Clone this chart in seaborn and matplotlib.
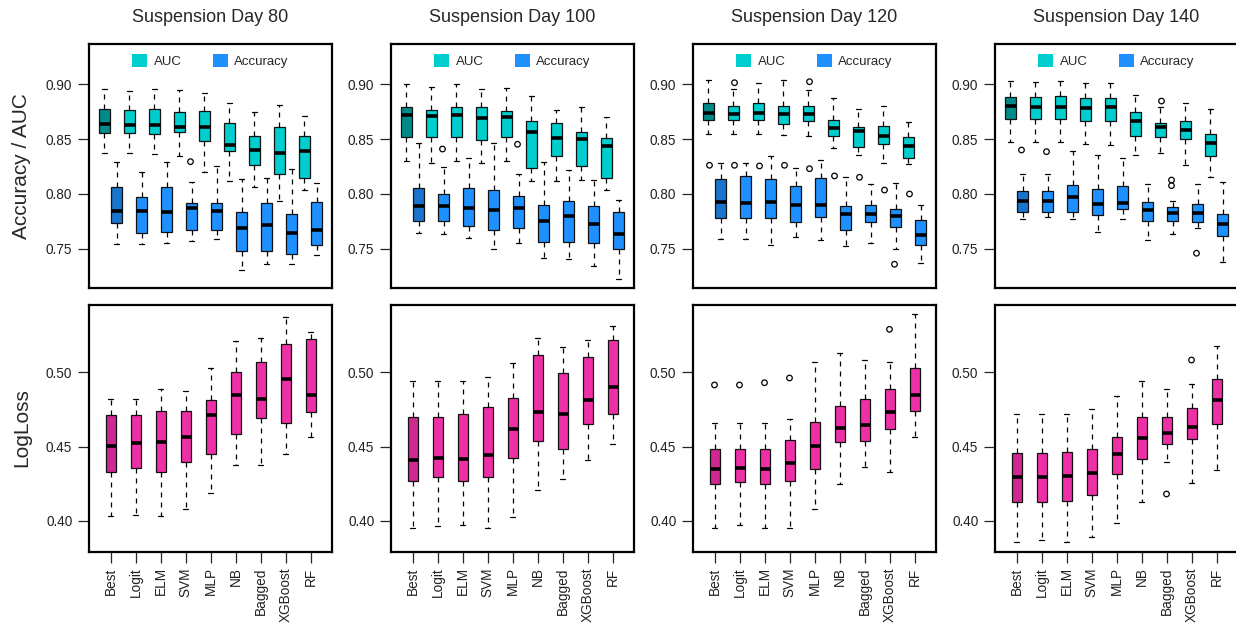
import pandas as pd
import seaborn as sns
import matplotlib.pyplot as plt
from matplotlib.patches import Patch

# models on the x axis
models = ['Best', 'Logit', 'ELM', 'SVM', 'MLP', 'NB', 'Bagged', 'XGBoost', 'RF']
titles = ['Suspension Day 80', 'Suspension Day 100', 'Suspension Day 120', 'Suspension Day 140']

# box summaries per model: [low whisker, Q1, median, Q3, high whisker]
auc_80 = [[0.8373, 0.8555, 0.8636, 0.8776, 0.8955], [0.8373, 0.8555, 0.8627, 0.8767, 0.8936],
          [0.8361, 0.8545, 0.8624, 0.8776, 0.8955], [0.8345, 0.8561, 0.8606, 0.8745, 0.8942],
          [0.8203, 0.8482, 0.8612, 0.8752, 0.8921], [0.8115, 0.8388, 0.8442, 0.8645, 0.8830],
          [0.8064, 0.8267, 0.8403, 0.8527, 0.8742], [0.7936, 0.8179, 0.8376, 0.8612, 0.8806],
          [0.8036, 0.8142, 0.8391, 0.8530, 0.8712]]
acc_80 = [[0.7545, 0.7733, 0.7842, 0.8061, 0.8288], [0.7545, 0.7648, 0.7842, 0.7976, 0.8203],
          [0.7552, 0.7655, 0.7836, 0.8061, 0.8291], [0.7573, 0.7673, 0.7870, 0.7915, 0.8112],
          [0.7594, 0.7673, 0.7848, 0.7921, 0.8255], [0.7309, 0.7482, 0.7694, 0.7833, 0.8133],
          [0.7361, 0.7482, 0.7718, 0.7915, 0.8142], [0.7361, 0.7458, 0.7645, 0.7818, 0.8224],
          [0.7445, 0.7533, 0.7670, 0.7924, 0.8097]]
auc_100 = [[0.8303, 0.8518, 0.8718, 0.8794, 0.8997], [0.8285, 0.8518, 0.8706, 0.8761, 0.8970],
           [0.8303, 0.8518, 0.8721, 0.8788, 0.8997], [0.8285, 0.8491, 0.8688, 0.8794, 0.8958],
           [0.8303, 0.8518, 0.8703, 0.8755, 0.8964], [0.8115, 0.8233, 0.8560, 0.8665, 0.8890],
           [0.8115, 0.8342, 0.8505, 0.8648, 0.8765], [0.8124, 0.8252, 0.8498, 0.8562, 0.8795],
           [0.8040, 0.8148, 0.8434, 0.8512, 0.8697]]
acc_100 = [[0.7645, 0.7752, 0.7894, 0.8052, 0.8461], [0.7636, 0.7752, 0.7894, 0.7997, 0.8242],
           [0.7600, 0.7709, 0.7876, 0.8052, 0.8324], [0.7503, 0.7670, 0.7858, 0.8036, 0.8461],
           [0.7558, 0.7690, 0.7877, 0.7984, 0.8185], [0.7420, 0.7566, 0.7754, 0.7900, 0.8292],
           [0.7407, 0.7560, 0.7796, 0.7940, 0.8219], [0.7346, 0.7551, 0.7723, 0.7888, 0.8131],
           [0.7231, 0.7501, 0.7639, 0.7834, 0.7942]]
auc_120 = [[0.8542, 0.8670, 0.8739, 0.8824, 0.9036], [0.8542, 0.8670, 0.8727, 0.8800, 0.8955],
           [0.8542, 0.8670, 0.8739, 0.8824, 0.9009], [0.8536, 0.8639, 0.8724, 0.8800, 0.9036],
           [0.8527, 0.8661, 0.8727, 0.8800, 0.8945], [0.8421, 0.8527, 0.8597, 0.8673, 0.8876],
           [0.8355, 0.8430, 0.8576, 0.8609, 0.8773], [0.8285, 0.8452, 0.8530, 0.8621, 0.8800],
           [0.8271, 0.8328, 0.8439, 0.8514, 0.8658]]
acc_120 = [[0.7594, 0.7785, 0.7924, 0.8133, 0.8279], [0.7594, 0.7785, 0.7918, 0.8161, 0.8279],
           [0.7533, 0.7785, 0.7924, 0.8133, 0.8348], [0.7612, 0.7748, 0.7900, 0.8073, 0.8236],
           [0.7582, 0.7794, 0.7897, 0.8148, 0.8309], [0.7527, 0.7673, 0.7818, 0.7891, 0.8158],
           [0.7555, 0.7742, 0.7821, 0.7897, 0.8091], [0.7497, 0.7700, 0.7800, 0.7860, 0.8100],
           [0.7368, 0.7540, 0.7631, 0.7759, 0.7900]]
auc_140 = [[0.8470, 0.8682, 0.8800, 0.8885, 0.9030], [0.8470, 0.8682, 0.8794, 0.8885, 0.9021],
           [0.8470, 0.8682, 0.8794, 0.8891, 0.9030], [0.8452, 0.8667, 0.8785, 0.8870, 0.9006],
           [0.8442, 0.8667, 0.8794, 0.8876, 0.9006], [0.8355, 0.8527, 0.8664, 0.8748, 0.8900],
           [0.8370, 0.8521, 0.8606, 0.8648, 0.8794], [0.8264, 0.8497, 0.8582, 0.8664, 0.8824],
           [0.8156, 0.8343, 0.8461, 0.8546, 0.8773]]
acc_140 = [[0.7770, 0.7833, 0.7936, 0.8030, 0.8182], [0.7790, 0.7833, 0.7936, 0.8030, 0.8182],
           [0.7770, 0.7833, 0.7976, 0.8082, 0.8391], [0.7650, 0.7809, 0.7909, 0.8042, 0.8355],
           [0.7770, 0.7861, 0.7915, 0.8073, 0.8330], [0.7582, 0.7758, 0.7855, 0.7924, 0.8091],
           [0.7636, 0.7755, 0.7824, 0.7879, 0.7939], [0.7694, 0.7742, 0.7824, 0.7906, 0.8091],
           [0.7377, 0.7614, 0.7726, 0.7817, 0.8105]]

loss_80 = [[0.4032, 0.4326, 0.4506, 0.4712, 0.4820], [0.4039, 0.4353, 0.4522, 0.4712, 0.4820],
           [0.4032, 0.4326, 0.4533, 0.4742, 0.4890], [0.4077, 0.4398, 0.4562, 0.4742, 0.4872],
           [0.4185, 0.4447, 0.4710, 0.4814, 0.5029], [0.4378, 0.4582, 0.4847, 0.5002, 0.5213],
           [0.4378, 0.4692, 0.4818, 0.5070, 0.5231], [0.4447, 0.4656, 0.4953, 0.5193, 0.5375],
           [0.4562, 0.4733, 0.4847, 0.5225, 0.5272]]
loss_100 = [[0.3951, 0.4270, 0.4409, 0.4701, 0.4944], [0.3965, 0.4297, 0.4423, 0.4701, 0.4944],
            [0.3969, 0.4270, 0.4418, 0.4717, 0.4944], [0.3951, 0.4297, 0.4443, 0.4769, 0.4971],
            [0.4027, 0.4423, 0.4620, 0.4829, 0.5063], [0.4207, 0.4535, 0.4735, 0.5117, 0.5234],
            [0.4279, 0.4486, 0.4719, 0.4998, 0.5168], [0.4409, 0.4652, 0.4814, 0.5106, 0.5218],
            [0.4516, 0.4721, 0.4901, 0.5215, 0.5313]]
loss_120 = [[0.3951, 0.4245, 0.4349, 0.4481, 0.4656], [0.3969, 0.4263, 0.4358, 0.4486, 0.4656],
            [0.3951, 0.4245, 0.4349, 0.4481, 0.4656], [0.3951, 0.4268, 0.4389, 0.4544, 0.4686],
            [0.4079, 0.4346, 0.4506, 0.4665, 0.5067], [0.4248, 0.4528, 0.4627, 0.4773, 0.5128],
            [0.4364, 0.4535, 0.4643, 0.4818, 0.5083], [0.4326, 0.4620, 0.4735, 0.4885, 0.5067],
            [0.4565, 0.4740, 0.4847, 0.5027, 0.5391]]
loss_140 = [[0.3854, 0.4128, 0.4297, 0.4459, 0.4719], [0.3870, 0.4128, 0.4297, 0.4459, 0.4719],
            [0.3854, 0.4133, 0.4304, 0.4463, 0.4719], [0.3888, 0.4171, 0.4324, 0.4481, 0.4751],
            [0.3982, 0.4313, 0.4447, 0.4566, 0.4843], [0.4124, 0.4418, 0.4558, 0.4697, 0.4944],
            [0.4398, 0.4515, 0.4593, 0.4697, 0.4885], [0.4257, 0.4549, 0.4629, 0.4757, 0.4919],
            [0.4341, 0.4653, 0.4811, 0.4953, 0.5177]]

# outlying points (model, value)
auc_out = [[], [],
           [('Best', 0.8261), ('Logit', 0.8261), ('Logit', 0.9012), ('ELM', 0.8255), ('SVM', 0.8261),
            ('MLP', 0.8230), ('MLP', 0.9021), ('NB', 0.8164), ('Bagged', 0.8152),
            ('XGBoost', 0.8036), ('RF', 0.8000)],
           [('Bagged', 0.8845)]]
acc_out = [[('SVM', 0.8294)],
           [('Logit', 0.8409), ('MLP', 0.8452)],
           [('XGBoost', 0.7361)],
           [('Best', 0.8400), ('Logit', 0.8385), ('Bagged', 0.8127), ('Bagged', 0.8076),
            ('XGBoost', 0.7461)]]
loss_out = [[], [],
            [('Best', 0.4915), ('Logit', 0.4915), ('ELM', 0.4930), ('SVM', 0.4962), ('XGBoost', 0.5290)],
            [('Bagged', 0.4180), ('XGBoost', 0.5083)]]

auc_sets = [auc_80, auc_100, auc_120, auc_140]
acc_sets = [acc_80, acc_100, acc_120, acc_140]
loss_sets = [loss_80, loss_100, loss_120, loss_140]

AUC_C, AUC_DARK = '#00CDCD', '#008B8B'
ACC_C, ACC_DARK = '#1E90FF', '#1874CD'
LOSS_C, LOSS_DARK = '#EE30A7', '#CD2990'

sns.set_theme(style='ticks')
plt.rcParams['font.family'] = ['Liberation Sans', 'DejaVu Sans']

box_kws = dict(whis=(0, 100), saturation=1, linecolor='#111111', linewidth=0.9, legend=False,
               medianprops=dict(color='black', linewidth=2.6, solid_capstyle='butt'),
               whiskerprops=dict(color='black', linestyle=(0, (4, 4)), linewidth=0.9),
               capprops=dict(color='black', linewidth=0.9))


def frame_from(stats, metric):
    rows = []
    for m, s in zip(models, stats):
        rows += [(m, metric, v) for v in s]
    return rows


def style_axis(ax, ylim, yticks):
    ax.set_xlim(-0.86, 8.86)
    ax.set_ylim(*ylim)
    ax.set_yticks(yticks)
    ax.set_yticklabels(['%.2f' % t for t in yticks])
    ax.set_xlabel('')
    ax.set_ylabel('')
    for s in ax.spines.values():
        s.set_visible(True)
        s.set_linewidth(1.6)
        s.set_color('black')
    ax.tick_params(axis='y', length=8, width=0.9, labelsize=9.8, labelcolor='#222222', pad=4)


def darken_best(ax, dark_left, dark_right):
    for p in ax.patches:
        ext = p.get_path().get_extents()
        cx = (ext.x0 + ext.x1) / 2
        if cx < 0.5:
            p.set_facecolor(dark_left if cx < -0.01 else dark_right)


fig = plt.figure(figsize=(12.36, 6.24), dpi=100)
W, H = 1236, 624
lefts = [89, 391, 693, 995]
aw = 243

for i in range(4):
    # top row: AUC / Accuracy
    ax = fig.add_axes([lefts[i] / W, 1 - 288 / H, aw / W, 244 / H])
    df = pd.DataFrame(frame_from(auc_sets[i], 'AUC') + frame_from(acc_sets[i], 'Accuracy'),
                      columns=['model', 'metric', 'value'])
    sns.boxplot(data=df, x='model', y='value', hue='metric', order=models,
                hue_order=['AUC', 'Accuracy'], palette={'AUC': AUC_C, 'Accuracy': ACC_C},
                width=1.0, gap=0.14, ax=ax, **box_kws)
    darken_best(ax, AUC_DARK, ACC_DARK)
    out = [(m, 'AUC', v) for m, v in auc_out[i]] + [(m, 'Accuracy', v) for m, v in acc_out[i]]
    odf = pd.DataFrame(out, columns=['model', 'metric', 'value'])
    sns.stripplot(data=odf, x='model', y='value', hue='metric', order=models,
                  hue_order=['AUC', 'Accuracy'], palette={'AUC': 'black', 'Accuracy': 'black'},
                  dodge=True, jitter=False, size=4, linewidth=0.9, edgecolor='black',
                  legend=False, ax=ax)
    for c in ax.collections:
        c.set_facecolor('none')
    style_axis(ax, (0.7145, 0.9364), [0.75, 0.80, 0.85, 0.90])
    ax.tick_params(axis='x', bottom=False, labelbottom=False)
    handles = [Patch(facecolor=AUC_C, edgecolor='none', label='AUC'),
               Patch(facecolor=ACC_C, edgecolor='none', label='Accuracy')]
    ax.legend(handles=handles, loc='upper center', bbox_to_anchor=(0.5, 1.0), ncol=2,
              frameon=False, fontsize=9.5, handlelength=1.1, handleheight=1.1,
              handletextpad=0.5, columnspacing=2.4, borderaxespad=0.35)
    fig.text((lefts[i] + aw / 2) / W, 1 - 17 / H, titles[i], ha='center', va='center',
             fontsize=13)

    # bottom row: LogLoss
    bx = fig.add_axes([lefts[i] / W, 1 - 552 / H, aw / W, 247 / H])
    ldf = pd.DataFrame(frame_from(loss_sets[i], 'LogLoss'), columns=['model', 'metric', 'value'])
    sns.boxplot(data=ldf, x='model', y='value', order=models, color=LOSS_C, width=0.4,
                ax=bx, **box_kws)
    for p in bx.patches:
        ext = p.get_path().get_extents()
        if (ext.x0 + ext.x1) / 2 < 0.5:
            p.set_facecolor(LOSS_DARK)
    if loss_out[i]:
        lodf = pd.DataFrame(loss_out[i], columns=['model', 'value'])
        sns.stripplot(data=lodf, x='model', y='value', order=models, color='black',
                      jitter=False, size=4, linewidth=0.9, edgecolor='black', ax=bx)
        for c in bx.collections:
            c.set_facecolor('none')
    style_axis(bx, (0.3789, 0.5454), [0.40, 0.45, 0.50])
    bx.tick_params(axis='x', length=8, width=0.9, labelsize=9.8, labelcolor='#222222',
                   rotation=90, pad=3)

fig.text(22 / W, 1 - 166 / H, 'Accuracy / AUC', rotation=90, ha='center', va='center', fontsize=15)
fig.text(22 / W, 1 - 428 / H, 'LogLoss', rotation=90, ha='center', va='center', fontsize=15)

fig.savefig('out.png', dpi=100)
